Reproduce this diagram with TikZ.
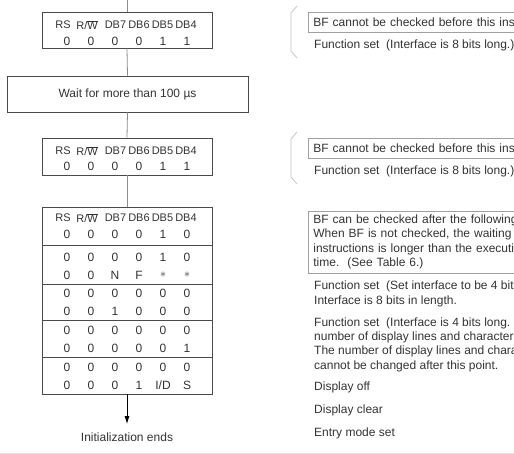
\documentclass[tikz,border=0pt]{standalone}
\usepackage{fontspec}
\setmainfont{Liberation Sans}
\usetikzlibrary{arrows.meta}
\definecolor{ink}{HTML}{333333}
\definecolor{boxline}{HTML}{4A4A4A}
\definecolor{linkgray}{HTML}{8C8C8C}
\definecolor{notegray}{HTML}{A0A0A0}
\definecolor{bracegray}{HTML}{C4C4C4}
\definecolor{rulegray}{HTML}{E4E4E4}
\tikzset{
  regbox/.style={draw=boxline, line width=0.9pt, inner sep=0pt},
  link/.style={draw=linkgray, line width=0.8pt},
  bit/.style={inner sep=0pt, text=ink},
  head/.style={bit, font=\fontsize{11}{13}\selectfont},
  note/.style={draw=notegray, line width=0.8pt, anchor=west, align=left,
    text width=260pt, inner xsep=5pt, text=ink},
  remark/.style={anchor=west, align=left, inner sep=0pt, text=ink},
  brace/.style={draw=bracegray, line width=0.8pt},
}
\begin{document}
\begin{tikzpicture}[x=1pt, y=-1pt, font=\fontsize{12}{14.3}\selectfont]
\useasboundingbox (0,0) rectangle (514,454);
\clip (0,0) rectangle (514,454);

% left column: register boxes
\coordinate (top) at (127,0);
\node[regbox, minimum width=170pt, minimum height=36pt] (init1) at (127,30) {};
\node[regbox, minimum width=241pt, minimum height=36pt, text=ink] (wait) at (127.5,94) {Wait for more than 100 µs};
\node[regbox, minimum width=170pt, minimum height=37pt] (init2) at (127,156.5) {};
\node[regbox, minimum width=170pt, minimum height=187pt] (init3) at (127,300.5) {};

% headers
\foreach \y in {25,151,218}{
  \node[head] at (63,\y) {RS};
  \node[head] at (87,\y) {R/$\overline{\mbox{W}}$};
  \node[head] at (115.5,\y) {DB7};
  \node[head] at (139,\y) {DB6};
  \node[head] at (162.5,\y) {DB5};
  \node[head] at (186,\y) {DB4};
}

% bit values
\foreach \y/\bits in {41/{0,0,0,0,1,1}, 166/{0,0,0,0,1,1}, 234/{0,0,0,0,1,0},
    257/{0,0,0,0,1,0}, 275/{0,0,N,F,$\ast$,$\ast$}, 293/{0,0,0,0,0,0},
    311/{0,0,1,0,0,0}, 330/{0,0,0,0,0,0}, 348/{0,0,0,0,0,1},
    367/{0,0,0,0,0,0}, 385/{0,0,0,1,I/D,S}}{
  \foreach \b [count=\i] in \bits
    \node[bit] at ({43+24*\i},\y) {\b};
}

% separators inside the last box
\foreach \y in {245,284,320,357}
  \draw[boxline, line width=0.9pt] (init3.west |- 0,\y) -- (init3.east |- 0,\y);

\node[text=ink] (done) at (127,437) {Initialization ends};

\draw[link] (top) -- (init1.north);
\draw[link] (init1.south) -- (wait.north);
\draw[link] (wait.south) -- (init2.north);
\draw[link] (init2.south) -- (init3.north);
\draw[-{Latex[length=8pt,width=5pt]}, black, line width=0.8pt, shorten >=5pt] (init3.south) -- (done.north);

% right column: remarks
\draw[brace] (297,6) -- (291,13) -- (291,51) -- (297,58);
\node[note, minimum height=20pt] (bf1) at (308,22) {BF cannot be checked before this ins};
\node[remark] (fs1) at (314,45) {Function set~~(Interface is 8 bits long.)};

\draw[brace] (297,132) -- (291,139) -- (291,177) -- (297,184);
\node[note, minimum height=20pt] (bf2) at (308,148) {BF cannot be checked before this ins};
\node[remark] (fs2) at (314,171) {Function set~~(Interface is 8 bits long.)};

\node[note, minimum height=62pt] (bf3) at (308,242) {BF can be checked after the following\\
  When BF is not checked, the waiting t\\
  instructions is longer than the executi\\
  time.~~(See Table 6.)};
\node[remark] (fs3) at (314,294) {Function set~~(Set interface to be 4 bit\\
  Interface is 8 bits in length.};
\node[remark] (fs4) at (314,344.5) {Function set~~(Interface is 4 bits long.\\
  number of display lines and character\\
  The number of display lines and chara\\
  cannot be changed after this point.};
\node[remark] (off) at (314,387) {Display off};
\node[remark] (clr) at (314,410) {Display clear};
\node[remark] (ems) at (314,433) {Entry mode set};

\draw[rulegray, line width=0.8pt] (0,453.5) -- (514,453.5);
\end{tikzpicture}
\end{document}
